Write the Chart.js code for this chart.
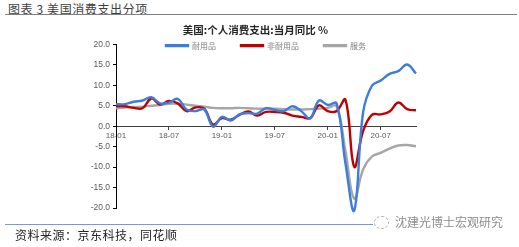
<!DOCTYPE html>
<html>
<head>
<meta charset="utf-8">
<script src="https://cdn.jsdelivr.net/npm/chart.js@4.4.1/dist/chart.umd.min.js"></script>
<style>
  body { margin: 0; width: 519px; height: 247px; background: #fff; position: relative; overflow: hidden;
         font-family: "Noto Sans CJK SC", sans-serif; }
  #chart { position: absolute; left: 0; top: 0; }
  .head { position: absolute; left: 8px; top: 1px; font-size: 12px; line-height: 16px; color: #404040; letter-spacing: 0.6px; }
  .headLine { position: absolute; left: 5px; top: 14px; width: 512px; border-top: 1.5px solid #808080; }
  .footLine { position: absolute; left: 5px; top: 224px; width: 368px; border-top: 1px solid #7a98d6; }
  .source { position: absolute; left: 15px; top: 227px; font-size: 12px; line-height: 16px; color: #262626; letter-spacing: 0.5px; }
  .mark { position: absolute; left: 395px; top: 214px; font-size: 12px; line-height: 16px; color: #8c8c8c; }
  .icon { position: absolute; left: 374px; top: 216px; width: 13px; height: 11px; border: 1px dashed #aaa; border-radius: 50%; }
</style>
</head>
<body>
<div class="head">图表 3 美国消费支出分项</div>
<div class="headLine"></div>
<canvas id="chart" width="519" height="247"></canvas>
<div class="footLine"></div>
<div class="icon"></div>
<div class="mark">沈建光博士宏观研究</div>
<div class="source">资料来源：京东科技，同花顺</div>
<script>
const months = ['18-01','18-02','18-03','18-04','18-05','18-06','18-07','18-08','18-09','18-10','18-11','18-12',
                '19-01','19-02','19-03','19-04','19-05','19-06','19-07','19-08','19-09','19-10','19-11','19-12',
                '20-01','20-02','20-03','20-04','20-05','20-06','20-07','20-08','20-09','20-10','20-11'];
const tickLabels = ['18-01','18-07','19-01','19-07','20-01','20-07'];

// 耐用品
const durable = [5.4, 5.4, 6.0, 6.3, 7.1, 5.6, 5.8, 6.7, 4.1, 3.7, 4.1, -0.1,
                 2.3, 1.4, 2.9, 3.2, 3.1, 4.4, 4.0, 3.7, 4.9, 3.7, 1.9, 6.3,
                 5.2, 5.6, -9.0, -20.6, 3.3, 9.9, 11.2, 12.8, 13.5, 15.1, 12.9];
// 非耐用品
const nondurable = [4.9, 4.9, 4.5, 4.4, 6.8, 5.3, 6.2, 5.6, 3.7, 4.6, 4.3, 0.4,
                    2.0, 1.6, 2.8, 3.6, 2.6, 3.5, 3.5, 3.3, 2.6, 2.3, 2.0, 5.1,
                    3.7, 3.7, 6.5, -9.9, -1.2, 2.8, 2.9, 3.6, 5.8, 4.2, 3.9];
// 服务
const services = [4.4, 4.6, 4.7, 4.8, 5.0, 5.2, 5.5, 5.5, 5.3, 5.0, 4.8, 4.5,
                  4.4, 4.4, 4.5, 4.4, 4.3, 4.3, 4.3, 4.2, 4.1, 4.1, 4.2, 4.3,
                  4.5, 4.9, -6.0, -17.7, -10.6, -7.4, -6.5, -5.5, -4.7, -4.6, -4.9];

const seriesNames = ['耐用品', '非耐用品', '服务'];
const seriesColors = ['#3b7ddd', '#c00000', '#a6a6a6'];
const seriesData = [durable, nondurable, services];

const font = 'Liberation Sans';

// legend sits over the top of the plot, like in the source picture
const legendShift = {
    id: 'legendShift',
    afterLayout(chart) {
        const lg = chart.legend;
        lg.top = 16.6;
        lg.bottom = 16.6 + 43;
        lg.height = 43;
    }
};

new Chart(document.getElementById('chart'), {
    type: 'line',
    data: {
        labels: months,
        datasets: seriesData.map((d, i) => ({
            label: seriesNames[i],
            data: d,
            borderColor: seriesColors[i],
            backgroundColor: seriesColors[i],
            borderWidth: 2.4,
            pointRadius: 0,
            tension: 0.4,
            fill: false,
            clip: false
        }))
    },
    plugins: [legendShift],
    options: {
        responsive: false,
        animation: false,
        layout: { padding: { left: 0, right: 103, top: 0, bottom: 39 } },
        plugins: {
            title: {
                display: true,
                fullSize: false,
                text: '美国:个人消费支出:当月同比 %\u3000\u3000',
                color: '#262626',
                font: { family: 'Noto Sans CJK SC', size: 10.5, weight: 'bold' },
                padding: { top: 24, bottom: 0 }
            },
            legend: {
                fullSize: false,
                maxHeight: 7.9,
                labels: {
                    boxWidth: 22,
                    boxHeight: 1,
                    padding: 25,
                    color: '#7f7f7f',
                    font: { family: 'Noto Sans CJK SC', size: 8 }
                }
            },
            tooltip: { enabled: false }
        },
        scales: {
            x: {
                position: { y: 0 },
                afterFit(scale) { scale.height = 0; },
                grid: { drawOnChartArea: false, tickLength: 3, color: '#404040' },
                border: { color: '#404040', width: 1 },
                ticks: {
                    autoSkip: false,
                    maxRotation: 0,
                    padding: 2,
                    color: '#595959',
                    font: { family: font, size: 8 },
                    callback: (v, i) => tickLabels.includes(months[i]) ? months[i] : null
                }
            },
            y: {
                min: -20,
                max: 20,
                afterFit(scale) { scale.width = 116; },
                grid: { drawOnChartArea: false, tickLength: 3, color: '#000' },
                border: { color: '#000', width: 1 },
                ticks: {
                    stepSize: 5,
                    padding: 3,
                    color: '#595959',
                    font: { family: font, size: 8.5 },
                    callback: v => v.toFixed(1)
                }
            }
        }
    }
});
</script>
</body>
</html>
